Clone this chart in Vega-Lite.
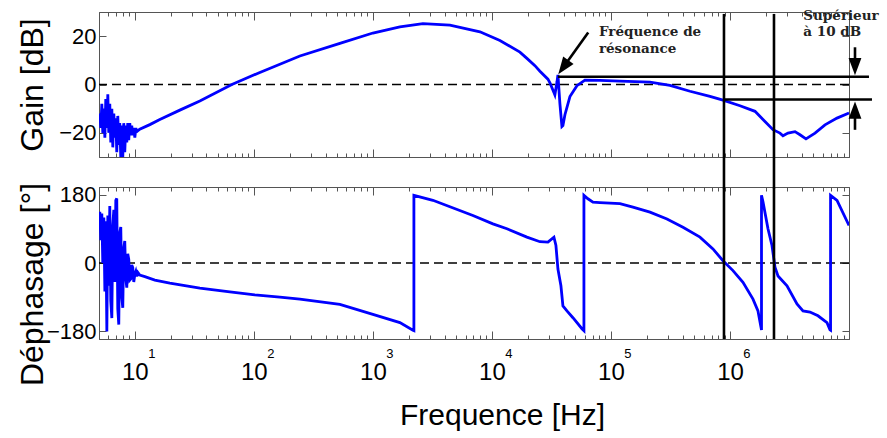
{
  "$schema": "https://vega.github.io/schema/vega-lite/v6.json",
  "background": "white",
  "padding": {"left": 15, "top": 8, "right": 5, "bottom": 5},
  "spacing": 30,
  "bounds": "flush",
  "config": {
    "view": {"stroke": "#555", "strokeWidth": 1},
    "axis": {"domainColor": "#555", "tickColor": "#555", "tickWidth": 1, "labelFont": "Liberation Sans", "titleFont": "Liberation Sans", "labelColor": "#000", "titleColor": "#000", "titleFontWeight": "normal", "grid": false, "labelOverlap": false, "labelFlush": false}
  },
  "vconcat": [
    {
      "width": 750, "height": 145,
      "resolve": {"axis": {"x": "independent", "y": "independent"}},
      "layer": [
        {
          "data": {"values": [{"g": 0}]},
          "mark": {"type": "rule", "strokeDash": [9, 5], "strokeWidth": 1.5, "color": "black"},
          "encoding": {"y": {"field": "g", "type": "quantitative", "axis": null, "scale": {"domain": [-30, 30], "nice": false, "zero": false}}}
        },
        {
          "data": {"values": [
            {"f": 5.08, "g": -12}, {"f": 5.18, "g": -18}, {"f": 5.28, "g": -8}, {"f": 5.38, "g": -20}, {"f": 5.49, "g": -10}, {"f": 5.60, "g": -22}, {"f": 5.70, "g": -6}, {"f": 5.82, "g": -18}, {"f": 5.93, "g": -4}, {"f": 6.04, "g": -20}, {"f": 6.16, "g": -8}, {"f": 6.28, "g": -24}, {"f": 6.41, "g": -10}, {"f": 6.53, "g": -26}, {"f": 6.66, "g": -12}, {"f": 6.79, "g": -22}, {"f": 6.92, "g": -14}, {"f": 7.05, "g": -28}, {"f": 7.19, "g": -13}, {"f": 7.33, "g": -25}, {"f": 7.47, "g": -16}, {"f": 7.62, "g": -30}, {"f": 7.77, "g": -17}, {"f": 7.92, "g": -30}, {"f": 8.07, "g": -16}, {"f": 8.23, "g": -28}, {"f": 8.39, "g": -17}, {"f": 8.56, "g": -24}, {"f": 8.72, "g": -16}, {"f": 8.89, "g": -23}, {"f": 9.07, "g": -16}, {"f": 9.24, "g": -21}, {"f": 9.42, "g": -17}, {"f": 9.61, "g": -21}, {"f": 9.80, "g": -18}, {"f": 10.0, "g": -22}, {"f": 10.2, "g": -18}, {"f": 10.4, "g": -19.5},
            {"f": 11.0, "g": -18.5}, {"f": 13.37, "g": -16.6}, {"f": 16.22, "g": -14.5}, {"f": 23.89, "g": -10.6}, {"f": 35.18, "g": -6.8}, {"f": 65.33, "g": 0}, {"f": 112.3, "g": 5.0}, {"f": 243.6, "g": 11.8}, {"f": 528.1, "g": 17.0}, {"f": 1000, "g": 21.3}, {"f": 1686, "g": 23.8}, {"f": 2632, "g": 25.2}, {"f": 4438, "g": 24.6}, {"f": 7930, "g": 21.8}, {"f": 11675, "g": 18.2}, {"f": 17190, "g": 13.4}, {"f": 19684, "g": 10.8}, {"f": 22980, "g": 7.8}, {"f": 25320, "g": 5.5}, {"f": 29550, "g": 2.2}, {"f": 30720, "g": 0.7}, {"f": 33800, "g": -4.3}, {"f": 35200, "g": 1.0}, {"f": 35860, "g": 4.0}, {"f": 36560, "g": -2}, {"f": 37270, "g": -8}, {"f": 38740, "g": -17.4}, {"f": 39500, "g": -17}, {"f": 41060, "g": -12.5}, {"f": 45230, "g": -5.0}, {"f": 51800, "g": -0.5}, {"f": 60460, "g": 1.8}, {"f": 80840, "g": 1.7}, {"f": 119000, "g": 1.4}, {"f": 212700, "g": 1.0}, {"f": 313200, "g": -0.4}, {"f": 461200, "g": -2.8}, {"f": 679000, "g": -4.9}, {"f": 873500, "g": -6.5}, {"f": 1214000, "g": -8.8}, {"f": 1623000, "g": -11.1}, {"f": 1968000, "g": -15.3}, {"f": 2298000, "g": -18.7}, {"f": 2631000, "g": -20.1}, {"f": 2789000, "g": -21.2}, {"f": 3072000, "g": -20.1}, {"f": 3518000, "g": -19.5}, {"f": 3875000, "g": -20.8}, {"f": 4352000, "g": -22.5}, {"f": 5181000, "g": -20.1}, {"f": 6286000, "g": -16.7}, {"f": 7930000, "g": -13.9}, {"f": 10000000, "g": -11.8}
          ]},
          "mark": {"type": "line", "color": "#0000ff", "strokeWidth": 2.8, "clip": true},
          "encoding": {
            "x": {"field": "f", "type": "quantitative", "scale": {"type": "log", "domain": [5, 10000000], "nice": false},
                  "axis": {"orient": "bottom", "title": null, "labels": false, "values": [6,7,8,9,10,20,30,40,50,60,70,80,90,100,200,300,400,500,600,700,800,900,1000,2000,3000,4000,5000,6000,7000,8000,9000,10000,20000,30000,40000,50000,60000,70000,80000,90000,100000,200000,300000,400000,500000,600000,700000,800000,900000,1000000,2000000,3000000,4000000,5000000,6000000,7000000,8000000,9000000],
                           "tickSize": {"condition": {"test": "abs(log(datum.value)/LN10 - round(log(datum.value)/LN10)) < 0.001", "value": -8}, "value": -4}}},
            "y": {"field": "g", "type": "quantitative", "scale": {"domain": [-30, 30], "nice": false, "zero": false},
                  "axis": {"orient": "left", "values": [-20, 0, 20], "tickSize": -7, "labelPadding": 10, "labelFontSize": 22, "title": "Gain [dB]", "titleFontSize": 32, "titleX": -57, "titleBaseline": "alphabetic"}},
            "order": {"value": null}
          }
        },
        {
          "data": {"values": [{"f1": 35860, "f2": 14720000, "g": 3.2}, {"f1": 873500, "f2": 15600000, "g": -6.2}]},
          "mark": {"type": "rule", "color": "black", "strokeWidth": 2.6},
          "encoding": {
            "x": {"field": "f1", "type": "quantitative", "scale": {"type": "log", "domain": [5, 10000000], "nice": false},
                  "axis": {"orient": "top", "title": null, "labels": false, "values": [6,7,8,9,10,20,30,40,50,60,70,80,90,100,200,300,400,500,600,700,800,900,1000,2000,3000,4000,5000,6000,7000,8000,9000,10000,20000,30000,40000,50000,60000,70000,80000,90000,100000,200000,300000,400000,500000,600000,700000,800000,900000,1000000,2000000,3000000,4000000,5000000,6000000,7000000,8000000,9000000],
                           "tickSize": {"condition": {"test": "abs(log(datum.value)/LN10 - round(log(datum.value)/LN10)) < 0.001", "value": -8}, "value": -4}}},
            "x2": {"field": "f2"},
            "y": {"field": "g", "type": "quantitative", "scale": {"domain": [-30, 30], "nice": false, "zero": false},
                  "axis": {"orient": "right", "title": null, "labels": false, "values": [-20, 0, 20], "tickSize": -7}}
          }
        },
        {
          "data": {"values": [{"f": 890500, "g1": 29.2, "g2": -43}, {"f": 2343000, "g1": 29.2, "g2": -43}]},
          "mark": {"type": "rule", "color": "black", "strokeWidth": 2.6},
          "encoding": {
            "x": {"field": "f", "type": "quantitative", "scale": {"type": "log", "domain": [5, 10000000], "nice": false}, "axis": null},
            "y": {"field": "g1", "type": "quantitative", "scale": {"domain": [-30, 30], "nice": false, "zero": false}, "axis": null},
            "y2": {"field": "g2"}
          }
        },
        {
          "data": {"values": [
            {"id": "r", "f": 64440, "g": 21.5}, {"id": "r", "f": 39810, "g": 7.1},
            {"id": "d", "f": 11230000, "g": 15.4}, {"id": "d", "f": 11230000, "g": 8.0},
            {"id": "u", "f": 11230000, "g": -18.75}, {"id": "u", "f": 11230000, "g": -11.5}
          ]},
          "mark": {"type": "line", "color": "black", "strokeWidth": 2.6},
          "encoding": {
            "x": {"field": "f", "type": "quantitative", "scale": {"type": "log", "domain": [5, 10000000], "nice": false}, "axis": null},
            "y": {"field": "g", "type": "quantitative", "scale": {"domain": [-30, 30], "nice": false, "zero": false}, "axis": null},
            "detail": {"field": "id"},
            "order": {"value": null}
          }
        },
        {
          "data": {"values": [
            {"f": 39810, "g": 7.1, "a": 215.7},
            {"f": 11230000, "g": 7.4, "a": 180},
            {"f": 11230000, "g": -10.6, "a": 0}
          ]},
          "mark": {"type": "point", "shape": "M0,-1L0.74,1L-0.74,1Z", "filled": true, "color": "black", "size": 300, "opacity": 1},
          "encoding": {
            "x": {"field": "f", "type": "quantitative", "scale": {"type": "log", "domain": [5, 10000000], "nice": false}, "axis": null},
            "y": {"field": "g", "type": "quantitative", "scale": {"domain": [-30, 30], "nice": false, "zero": false}, "axis": null},
            "angle": {"field": "a", "type": "quantitative", "scale": null}
          }
        },
        {
          "data": {"values": [
            {"f": 79250, "g": 20.1, "t": "Fréquence de"},
            {"f": 79250, "g": 13.2, "t": "résonance"},
            {"f": 4130000, "g": 26.8, "t": "Supérieur"},
            {"f": 4130000, "g": 20.1, "t": "à 10 dB"}
          ]},
          "mark": {"type": "text", "font": "DejaVu Serif", "fontWeight": "bold", "fontSize": 13.5, "color": "#222", "align": "left", "baseline": "alphabetic"},
          "encoding": {
            "x": {"field": "f", "type": "quantitative", "scale": {"type": "log", "domain": [5, 10000000], "nice": false}, "axis": null},
            "y": {"field": "g", "type": "quantitative", "scale": {"domain": [-30, 30], "nice": false, "zero": false}, "axis": null},
            "text": {"field": "t"}
          }
        }
      ]
    },
    {
      "width": 750, "height": 152,
      "resolve": {"axis": {"x": "independent", "y": "independent"}},
      "layer": [
        {
          "data": {"values": [{"p": 0}]},
          "mark": {"type": "rule", "strokeDash": [9, 5], "strokeWidth": 1.5, "color": "black"},
          "encoding": {"y": {"field": "p", "type": "quantitative", "axis": null, "scale": {"domain": [-200, 200], "nice": false, "zero": false}}}
        },
        {
          "data": {"values": [
            {"f": 5.08, "p": 135}, {"f": 5.18, "p": 60}, {"f": 5.28, "p": 130}, {"f": 5.38, "p": 0}, {"f": 5.49, "p": 120}, {"f": 5.60, "p": -75}, {"f": 5.70, "p": 110}, {"f": 5.82, "p": -180}, {"f": 5.93, "p": 125}, {"f": 6.04, "p": -60}, {"f": 6.16, "p": 150}, {"f": 6.28, "p": -100}, {"f": 6.41, "p": -145}, {"f": 6.53, "p": 100}, {"f": 6.66, "p": 140}, {"f": 6.79, "p": -50}, {"f": 6.92, "p": 165}, {"f": 7.05, "p": 170}, {"f": 7.19, "p": -120}, {"f": 7.33, "p": -162}, {"f": 7.47, "p": 80}, {"f": 7.62, "p": 95}, {"f": 7.77, "p": -90}, {"f": 7.92, "p": -118}, {"f": 8.07, "p": 40}, {"f": 8.23, "p": 58}, {"f": 8.39, "p": -40}, {"f": 8.56, "p": -65}, {"f": 8.72, "p": 24}, {"f": 8.89, "p": 10}, {"f": 9.07, "p": -45}, {"f": 9.24, "p": -42}, {"f": 9.42, "p": -5}, {"f": 9.61, "p": -12}, {"f": 9.80, "p": -50}, {"f": 10.0, "p": -30}, {"f": 10.2, "p": -22}, {"f": 10.4, "p": -35}, {"f": 10.6, "p": -25}, {"f": 11.0, "p": -32},
            {"f": 12.14, "p": -36}, {"f": 14.73, "p": -45}, {"f": 19.68, "p": -53}, {"f": 35.18, "p": -66}, {"f": 62.86, "p": -76}, {"f": 101.9, "p": -84}, {"f": 165.4, "p": -90}, {"f": 243.6, "p": -95}, {"f": 528.1, "p": -109}, {"f": 1000, "p": -135}, {"f": 1686, "p": -157}, {"f": 2169, "p": -177}, {"f": 2211, "p": -178}, {"f": 2211, "p": 178},
            {"f": 3193, "p": 165}, {"f": 4438, "p": 148}, {"f": 6923, "p": 125}, {"f": 10195, "p": 103}, {"f": 13371, "p": 90}, {"f": 19684, "p": 68}, {"f": 25320, "p": 56}, {"f": 29550, "p": 55}, {"f": 33190, "p": 68}, {"f": 34500, "p": 46}, {"f": 35860, "p": -16}, {"f": 38000, "p": -60}, {"f": 39500, "p": -113}, {"f": 42680, "p": -126}, {"f": 47930, "p": -144}, {"f": 57060, "p": -173}, {"f": 59300, "p": -178}, {"f": 59300, "p": 178},
            {"f": 64070, "p": 169}, {"f": 70600, "p": 160}, {"f": 80840, "p": 159}, {"f": 119000, "p": 156}, {"f": 153000, "p": 147}, {"f": 212700, "p": 134}, {"f": 295600, "p": 116}, {"f": 402700, "p": 94}, {"f": 559700, "p": 68}, {"f": 719600, "p": 37}, {"f": 873500, "p": 6}, {"f": 1060000, "p": -20}, {"f": 1286000, "p": -51}, {"f": 1561000, "p": -95}, {"f": 1719000, "p": -126}, {"f": 1840000, "p": -176}, {"f": 1840000, "p": 178},
            {"f": 1894000, "p": 161}, {"f": 2086000, "p": 90}, {"f": 2254000, "p": 46}, {"f": 2389000, "p": -11}, {"f": 2532000, "p": -34}, {"f": 3013000, "p": -60}, {"f": 3656000, "p": -108}, {"f": 4106000, "p": -126}, {"f": 4702000, "p": -129}, {"f": 5489000, "p": -139}, {"f": 6534000, "p": -157}, {"f": 6923000, "p": -176}, {"f": 7000000, "p": -177}, {"f": 7000000, "p": 178},
            {"f": 7930000, "p": 165}, {"f": 10000000, "p": 99}
          ]},
          "mark": {"type": "line", "color": "#0000ff", "strokeWidth": 2.8, "clip": true},
          "encoding": {
            "x": {"field": "f", "type": "quantitative", "scale": {"type": "log", "domain": [5, 10000000], "nice": false},
                  "axis": {"orient": "bottom", "values": [6,7,8,9,10,20,30,40,50,60,70,80,90,100,200,300,400,500,600,700,800,900,1000,2000,3000,4000,5000,6000,7000,8000,9000,10000,20000,30000,40000,50000,60000,70000,80000,90000,100000,200000,300000,400000,500000,600000,700000,800000,900000,1000000,2000000,3000000,4000000,5000000,6000000,7000000,8000000,9000000],
                           "tickSize": {"condition": {"test": "abs(log(datum.value)/LN10 - round(log(datum.value)/LN10)) < 0.001", "value": -8}, "value": -4},
                           "labelExpr": "abs(log(datum.value)/LN10 - round(log(datum.value)/LN10)) < 0.001 ? '10' : ''",
                           "labelFontSize": 24, "labelPadding": 48, "labelBaseline": "alphabetic",
                           "title": "Frequence [Hz]", "titleFontSize": 30, "titleX": 403, "titleY": 85, "titleBaseline": "alphabetic"}},
            "y": {"field": "p", "type": "quantitative", "scale": {"domain": [-200, 200], "nice": false, "zero": false},
                  "axis": {"orient": "left", "values": [-180, 0, 180], "tickSize": -7, "labelPadding": 10, "labelFontSize": 22, "title": "Déphasage [°]", "titleFontSize": 32, "titleX": -57, "titleY": 97, "titleBaseline": "alphabetic"}},
            "order": {"value": null}
          }
        },
        {
          "data": {"values": [{"f": 890500, "p1": 200, "p2": -200}, {"f": 2343000, "p1": 200, "p2": -200}]},
          "mark": {"type": "rule", "color": "black", "strokeWidth": 2.6},
          "encoding": {
            "x": {"field": "f", "type": "quantitative", "scale": {"type": "log", "domain": [5, 10000000], "nice": false},
                  "axis": {"orient": "top", "title": null, "labels": false, "values": [6,7,8,9,10,20,30,40,50,60,70,80,90,100,200,300,400,500,600,700,800,900,1000,2000,3000,4000,5000,6000,7000,8000,9000,10000,20000,30000,40000,50000,60000,70000,80000,90000,100000,200000,300000,400000,500000,600000,700000,800000,900000,1000000,2000000,3000000,4000000,5000000,6000000,7000000,8000000,9000000],
                           "tickSize": {"condition": {"test": "abs(log(datum.value)/LN10 - round(log(datum.value)/LN10)) < 0.001", "value": -8}, "value": -4}}},
            "y": {"field": "p1", "type": "quantitative", "scale": {"domain": [-200, 200], "nice": false, "zero": false},
                  "axis": {"orient": "right", "title": null, "labels": false, "values": [-180, 0, 180], "tickSize": -7}},
            "y2": {"field": "p2"}
          }
        },
        {
          "data": {"values": [{"f": 10, "e": "1"}, {"f": 100, "e": "2"}, {"f": 1000, "e": "3"}, {"f": 10000, "e": "4"}, {"f": 100000, "e": "5"}, {"f": 1000000, "e": "6"}]},
          "mark": {"type": "text", "font": "Liberation Sans", "fontSize": 13, "color": "#000", "align": "center", "baseline": "middle", "dx": 17, "dy": 15},
          "encoding": {
            "x": {"field": "f", "type": "quantitative", "scale": {"type": "log", "domain": [5, 10000000], "nice": false}, "axis": null},
            "y": {"datum": -200, "type": "quantitative", "scale": {"domain": [-200, 200], "nice": false, "zero": false}, "axis": null},
            "text": {"field": "e"}
          }
        }
      ]
    }
  ]
}
